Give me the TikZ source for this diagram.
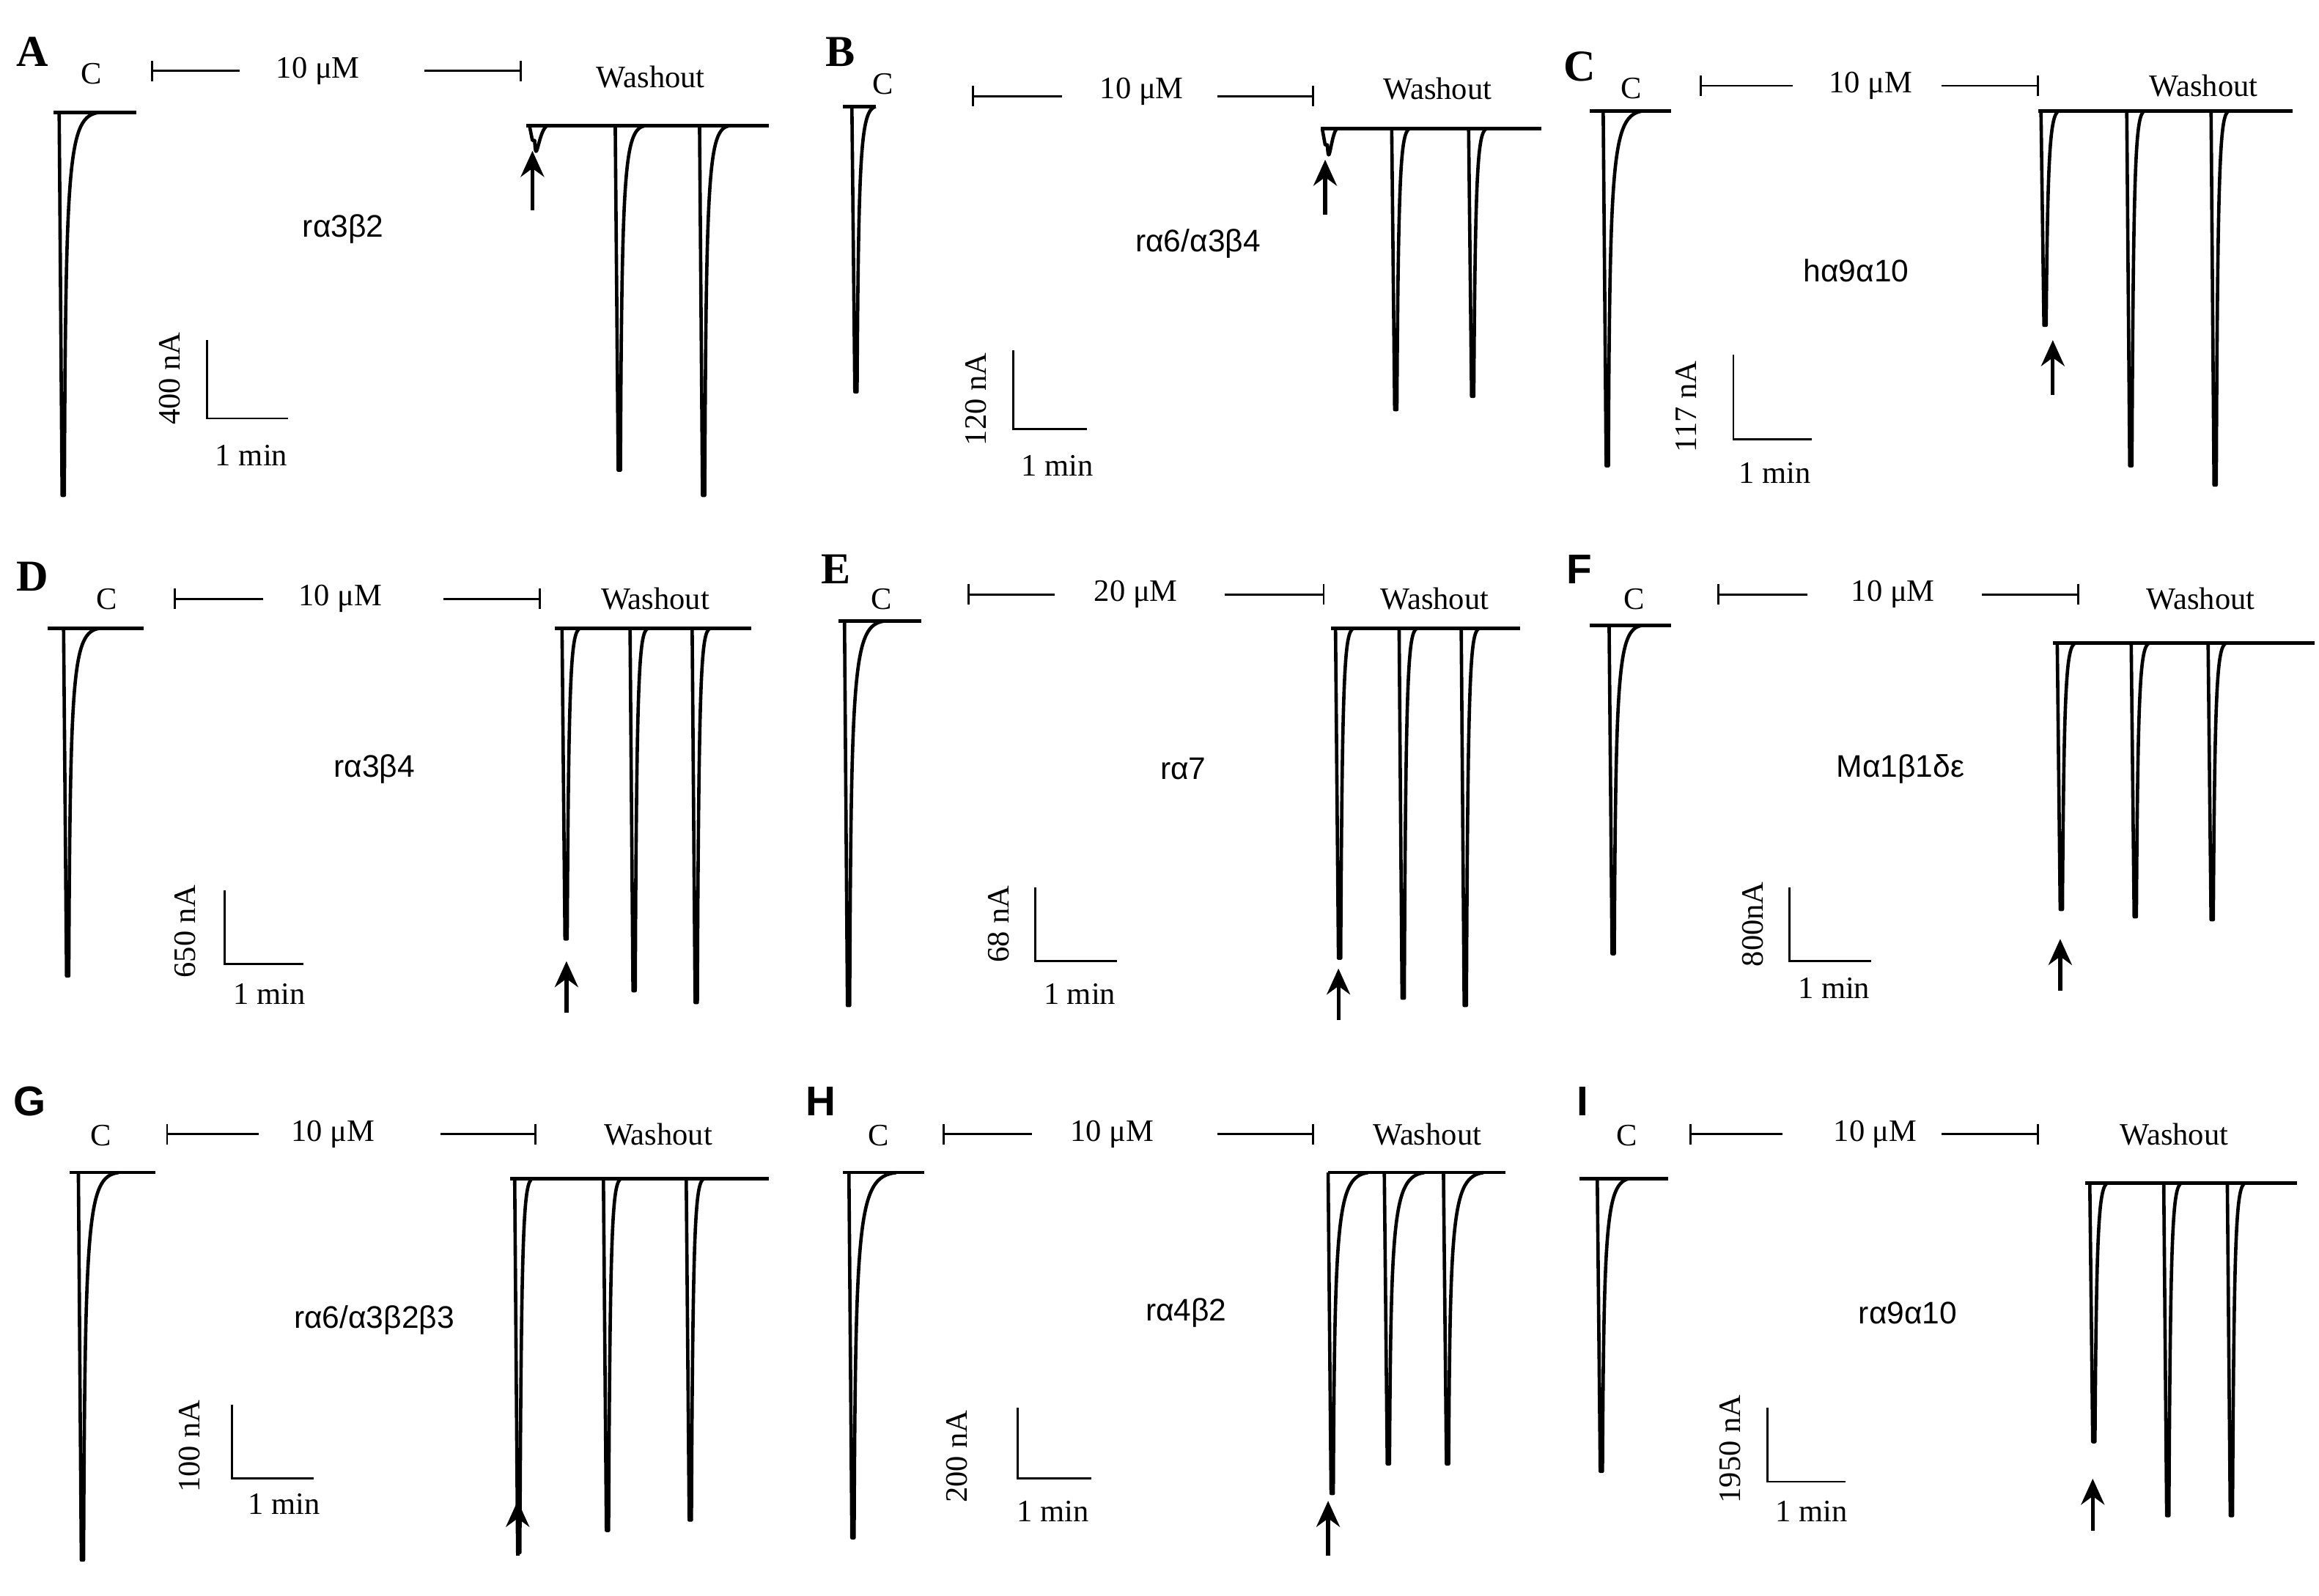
\documentclass[tikz,border=0pt]{standalone}
\usepackage{fontspec}
\setmainfont{Liberation Serif}
\newfontfamily\sff{Liberation Sans}
\usetikzlibrary{arrows.meta}
\newcommand\spk[4]{\draw[tr] (#1-2,#2) -- (#1,#3) -- (#1+1.5,#3) .. controls (#1+2.5,#2+30) and (#1+4,#2+3) .. (#1+#4,#2);}
\newcommand\base[3]{\draw[tr] (#1,#3) -- (#2,#3);}
\newcommand\concbar[5]{% x1, l1, x2, l2 at y #5
 \draw[bl] (#1,#5-7) -- (#1,#5+7) (#1,#5) -- (#2,#5) (#4,#5) -- (#3,#5) (#3,#5-7) -- (#3,#5+7);}
\newcommand\upar[3]{\draw[ar] (#1,#2) -- (#1,#3);}
\newcommand\sbar[4]{\draw[bl] (#1,#2) -- (#1,#3) -- (#4,#3);}
\begin{document}
\begin{tikzpicture}[x=0.02cm,y=-0.02cm,
 tr/.style={line width=1.3pt,line join=round},
 bl/.style={line width=0.8pt},
 ar/.style={line width=1.5pt,-{Stealth[length=10pt,width=9pt]}},
 t/.style={font=\fontsize{12}{14}\selectfont,inner sep=0},
 s/.style={font=\sff\fontsize{12}{14}\selectfont,inner sep=0},
 lt/.style={font=\fontsize{17}{20}\selectfont\bfseries,inner sep=0},
 ls/.style={font=\sff\fontsize{16}{20}\selectfont\bfseries,inner sep=0},
 v/.style={t,rotate=90}]
\useasboundingbox (0,0) rectangle (1568,1079);
% ---- A
\node[lt] (la) at (22,35) {A}; \node[t] (ca) at (62,50) {C};
\base{36}{92}{76}\spk{42}{76}{335}{25}
\concbar{103}{162}{352}{287}{48}\node[t] (ta) at (215,48) {10 μM};
\node[t] (wa) at (440,52) {Washout};
\base{356}{520}{85}\spk{360}{85}{95}{10}\spk{418}{85}{318}{18}\spk{475}{85}{335}{18}
\upar{360}{142}{102}
\node[s] (ra) at (232,155) {rα3β2};
\sbar{140}{230}{283}{195}\node[v] (va) at (115,256) {400 nA};\node[t] (ma) at (170,308) {1 min};
% ---- B
\node[lt] (lb) at (568,35) {B}; \node[t] (cb) at (597,57) {C};
\base{570}{592}{72}\spk{578}{72}{265}{14}
\concbar{658}{718}{888}{823}{65}\node[t] (tb) at (772,62) {10 μM};
\node[t] (wb) at (972,60) {Washout};
\base{893}{1042}{87}\spk{896}{87}{98}{8}\spk{943}{87}{277}{10}\spk{995}{87}{268}{10}
\upar{896}{145}{108}
\node[s] (rb) at (810,165) {rα6/α3β4};
\sbar{685}{237}{290}{735}\node[v] (vb) at (660,270) {120 nA};\node[t] (mb) at (715,315) {1 min};
% ---- C
\node[lt] (lc) at (1068,45) {C}; \node[t] (cc) at (1103,60) {C};
\base{1075}{1130}{75}\spk{1086}{75}{315}{25}
\concbar{1150}{1212}{1378}{1313}{58}\node[t] (tc) at (1265,58) {10 μM};
\node[t] (wc) at (1490,58) {Washout};
\base{1378}{1550}{75}\spk{1382}{75}{220}{10}\spk{1440}{75}{315}{10}\spk{1497}{75}{328}{10}
\upar{1388}{267}{230}
\node[s] (rc) at (1255,183) {hα9α10};
\sbar{1172}{240}{297}{1225}\node[v] (vc) at (1140,275) {117 nA};\node[t] (mc) at (1200,320) {1 min};
% ---- D
\node[lt] (ld) at (22,390) {D}; \node[t] (cd) at (72,405) {C};
\base{32}{97}{425}\spk{45}{425}{660}{22}
\concbar{118}{178}{365}{300}{405}\node[t] (td) at (230,405) {10 μM};
\node[t] (wd) at (443,405) {Washout};
\base{375}{508}{425}\spk{382}{425}{635}{10}\spk{428}{425}{670}{10}\spk{470}{425}{678}{10}
\upar{383}{685}{650}
\node[s] (rd) at (253,520) {rα3β4};
\sbar{152}{602}{652}{205}\node[v] (vd) at (125,630) {650 nA};\node[t] (md) at (182,672) {1 min};
% ---- E
\node[lt] (le) at (565,385) {E}; \node[t] (ce) at (596,405) {C};
\base{567}{623}{420}\spk{573}{420}{680}{25}
\concbar{655}{713}{895}{828}{402}\node[t] (te) at (768,402) {20 μM};
\node[t] (we) at (970,405) {Washout};
\base{900}{1028}{425}\spk{905}{425}{648}{10}\spk{948}{425}{675}{10}\spk{990}{425}{680}{10}
\upar{905}{690}{655}
\node[s] (re) at (800,520) {rα7};
\sbar{700}{600}{650}{755}\node[v] (ve) at (675,625) {68 nA};\node[t] (me) at (730,672) {1 min};
% ---- F
\node[ls] (lf) at (1068,385) {F}; \node[t] (cf) at (1105,405) {C};
\base{1075}{1130}{423}\spk{1090}{423}{645}{20}
\concbar{1162}{1222}{1405}{1340}{402}\node[t] (tf) at (1280,402) {10 μM};
\node[t] (wf) at (1488,405) {Washout};
\base{1388}{1565}{435}\spk{1393}{435}{615}{10}\spk{1443}{435}{620}{10}\spk{1495}{435}{622}{10}
\upar{1393}{670}{635}
\node[s] (rf) at (1285,520) {Mα1β1δε};
\sbar{1210}{600}{650}{1265}\node[v] (vf) at (1185,625) {800nA};\node[t] (mf) at (1240,668) {1 min};
% ---- G
\node[ls] (lg) at (20,745) {G}; \node[t] (cg) at (68,768) {C};
\base{47}{105}{793}\spk{55}{793}{1055}{25}
\concbar{113}{175}{362}{298}{767}\node[t] (tg) at (225,767) {10 μM};
\node[t] (wg) at (445,767) {Washout};
\base{345}{520}{797}\spk{350}{797}{1050}{10}\spk{410}{797}{1035}{10}\spk{466}{797}{1028}{10}
\upar{350}{1052}{1015}
\node[s] (rg) at (253,893) {rα6/α3β2β3};
\sbar{157}{950}{1000}{212}\node[v] (vg) at (128,978) {100 nA};\node[t] (mg) at (192,1017) {1 min};
% ---- H
\node[ls] (lh) at (555,745) {H}; \node[t] (ch) at (594,768) {C};
\base{570}{625}{793}\spk{576}{793}{1040}{30}
\concbar{638}{698}{888}{823}{767}\node[t] (th) at (752,767) {10 μM};
\node[t] (wh) at (965,767) {Washout};
\base{898}{1018}{793}\spk{900}{793}{1010}{25}\spk{938}{793}{990}{25}\spk{978}{793}{990}{25}
\upar{898}{1052}{1015}
\node[s] (rh) at (802,888) {rα4β2};
\sbar{688}{952}{1000}{738}\node[v] (vh) at (647,985) {200 nA};\node[t] (mh) at (712,1022) {1 min};
% ---- I
\node[ls] (li) at (1070,745) {I}; \node[t] (ci) at (1100,768) {C};
\base{1068}{1128}{797}\spk{1082}{797}{995}{20}
\concbar{1143}{1205}{1378}{1313}{767}\node[t] (ti) at (1268,767) {10 μM};
\node[t] (wi) at (1470,767) {Washout};
\base{1410}{1553}{800}\spk{1415}{800}{975}{10}\spk{1465}{800}{1025}{10}\spk{1508}{800}{1025}{10}
\upar{1415}{1035}{1000}
\node[s] (ri) at (1290,888) {rα9α10};
\sbar{1195}{952}{1002}{1248}\node[v] (vi) at (1170,980) {1950 nA};\node[t] (mi) at (1225,1022) {1 min};
\end{tikzpicture}
\end{document}
